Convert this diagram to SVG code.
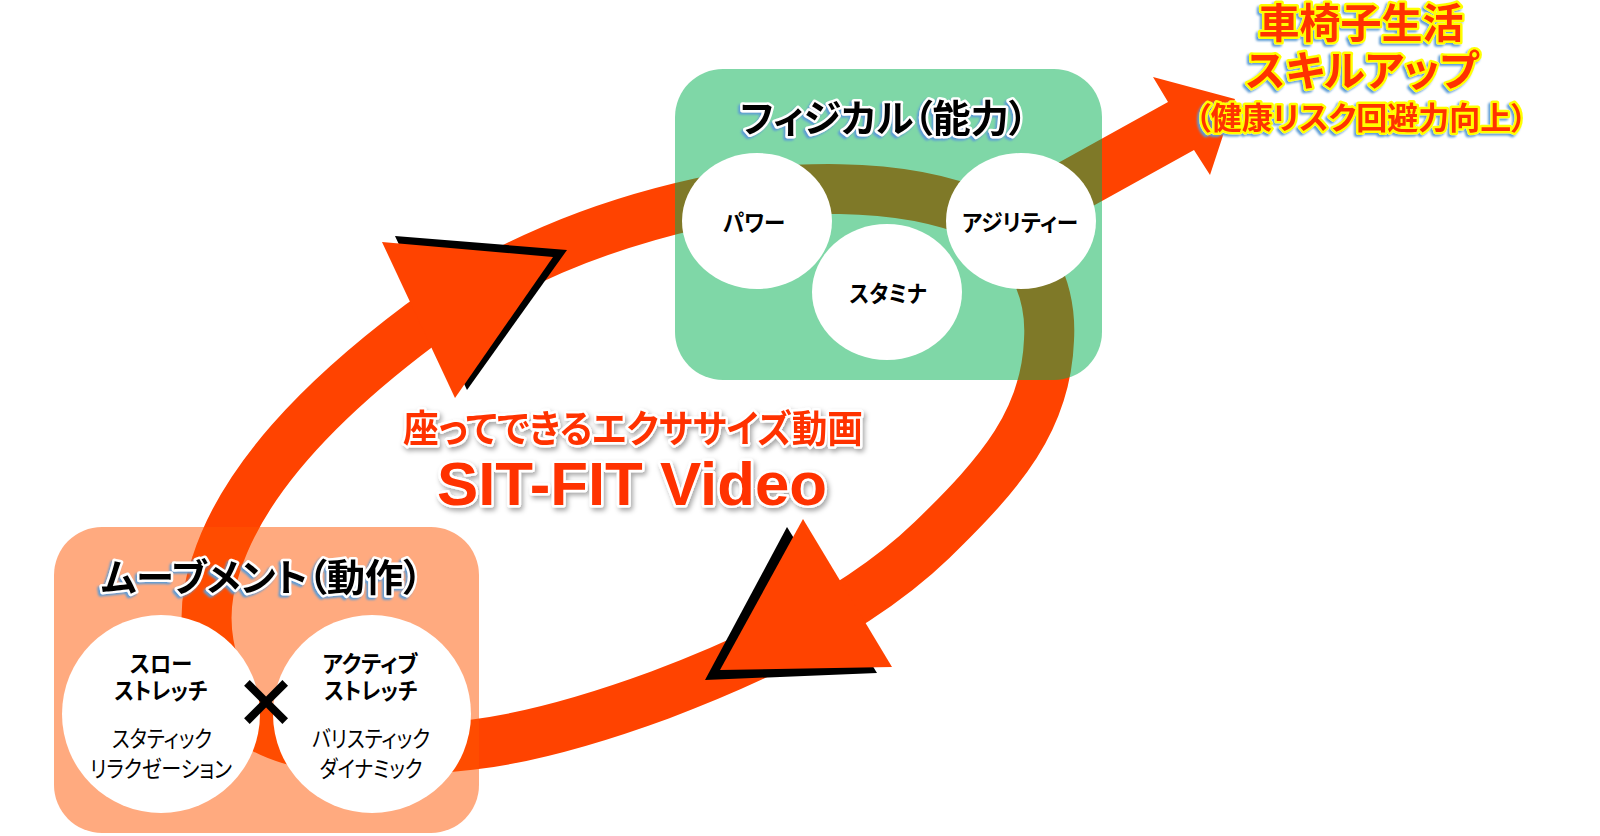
<svg xmlns="http://www.w3.org/2000/svg" width="1600" height="836" viewBox="0 0 1600 836">
<defs>
<style>
.jp{font-family:"Noto Sans CJK JP","Noto Sans",sans-serif;font-feature-settings:"palt";text-anchor:middle}
.b{font-weight:700}
.title{font-size:38px;font-weight:700;fill:#000;stroke:#fff;stroke-width:5;paint-order:stroke;stroke-linejoin:round}
.goal{font-weight:700;fill:#FF3300;stroke:#FFFF00;stroke-width:5;paint-order:stroke;stroke-linejoin:round}
.center{font-weight:700;fill:#FF3300;stroke:#fff;stroke-width:5;paint-order:stroke;stroke-linejoin:round}
.lbl{font-size:23px;fill:#000}
.band{fill:none;stroke:#FF4300;stroke-width:50}
.head{fill:#FF4300}
.shadow{fill:#000}
.white{fill:#fff}
</style>
<filter id="blueSh" x="-10%" y="-40%" width="120%" height="180%">
<feDropShadow dx="-2" dy="2" stdDeviation="0.8" flood-color="#5B9BD5" flood-opacity="1"/>
</filter>
<filter id="graySh" x="-10%" y="-40%" width="120%" height="180%">
<feDropShadow dx="2" dy="3" stdDeviation="2.5" flood-color="#000" flood-opacity="0.35"/>
</filter>
</defs>
<rect width="1600" height="836" fill="#fff"/>

<g id="connectors">
<path class="band" d="M 470 745 C 410 752, 290 760, 245 715 C 205 675, 198 615, 216 565 C 243 480, 320 400, 420 325 C 500 265, 600 225, 700 203 C 780 185, 900 180, 980 215 C 1030 240, 1052 290, 1049 340 C 1046 420, 1002 472, 932 540 C 870 600, 780 650, 660 695 C 600 717, 530 738, 470 745 Z"/>
<polygon class="head" points="993,199 1168,102 1153,77 1235,99 1210,175 1194,150 1019,247"/>
<polygon class="shadow" points="395,236 567,250 467,390"/>
<polygon class="head" points="382,242 553,257 455,398"/>
<polygon class="shadow" points="787,527 877,673 705,680"/>
<polygon class="head" points="803,519 892,667 720,670"/>
</g>

<g id="physical">
<rect x="675" y="69" width="427" height="311" rx="48" fill="#00B050" fill-opacity="0.5"/>
<text class="jp title" x="884" y="132" textLength="288" lengthAdjust="spacingAndGlyphs" filter="url(#blueSh)">フィジカル（能力）</text>
</g>

<g id="power">
<ellipse class="white" cx="757" cy="221" rx="75" ry="68"/>
<text class="jp b lbl" x="754" y="231" textLength="62" lengthAdjust="spacingAndGlyphs">パワー</text>
</g>
<g id="stamina">
<ellipse class="white" cx="887" cy="292" rx="75" ry="68"/>
<text class="jp b lbl" x="888" y="302" textLength="77" lengthAdjust="spacingAndGlyphs">スタミナ</text>
</g>
<g id="agility">
<ellipse class="white" cx="1021" cy="221" rx="75" ry="68"/>
<text class="jp b lbl" x="1020" y="231" textLength="116" lengthAdjust="spacingAndGlyphs">アジリティー</text>
</g>

<g id="movement">
<rect x="54" y="527" width="425" height="306" rx="48" fill="#FF5500" fill-opacity="0.5"/>
<text class="jp title" x="262" y="591" textLength="321" lengthAdjust="spacingAndGlyphs" filter="url(#blueSh)">ムーブメント（動作）</text>
</g>

<g id="slow-stretch">
<circle class="white" cx="161" cy="714" r="99"/>
<text class="jp b lbl" font-size="24" x="161" y="672" textLength="62" lengthAdjust="spacingAndGlyphs">スロー</text>
<text class="jp b lbl" font-size="24" x="161" y="699" textLength="93" lengthAdjust="spacingAndGlyphs">ストレッチ</text>
<text class="jp lbl" x="162" y="747" textLength="100" lengthAdjust="spacingAndGlyphs">スタティック</text>
<text class="jp lbl" x="161" y="777" textLength="142" lengthAdjust="spacingAndGlyphs">リラクゼーション</text>
</g>

<g id="active-stretch">
<circle class="white" cx="372" cy="714" r="99"/>
<text class="jp b lbl" font-size="24" x="370" y="672" textLength="95" lengthAdjust="spacingAndGlyphs">アクティブ</text>
<text class="jp b lbl" font-size="24" x="371" y="699" textLength="93" lengthAdjust="spacingAndGlyphs">ストレッチ</text>
<text class="jp lbl" x="371" y="747" textLength="118" lengthAdjust="spacingAndGlyphs">バリスティック</text>
<text class="jp lbl" x="371" y="777" textLength="103" lengthAdjust="spacingAndGlyphs">ダイナミック</text>
</g>

<g id="times">
<text class="jp" x="266" y="727" font-size="66" font-weight="900" fill="#000">×</text>
</g>

<g id="goal" filter="url(#blueSh)">
<text class="jp goal" x="1361" y="38" font-size="41">車椅子生活</text>
<text class="jp goal" x="1362" y="86" font-size="42">スキルアップ</text>
<text class="jp goal" x="1361" y="129" font-size="31">（健康リスク回避力向上）</text>
</g>

<g id="center-title" filter="url(#graySh)">
<text class="jp center" x="633" y="442" font-size="38" textLength="460" lengthAdjust="spacingAndGlyphs">座ってできるエクササイズ動画</text>
<text class="center" x="632" y="505" font-size="62" font-family="Liberation Sans, Arial, sans-serif" text-anchor="middle" textLength="390" lengthAdjust="spacingAndGlyphs">SIT-FIT Video</text>
</g>
</svg>
